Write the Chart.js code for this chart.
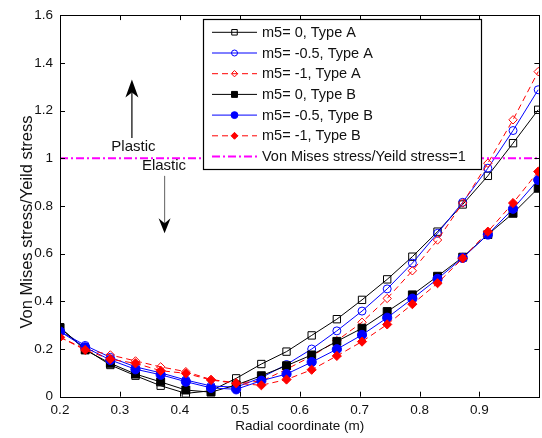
<!DOCTYPE html>
<html>
<head>
<meta charset="utf-8">
<script src="https://cdn.jsdelivr.net/npm/chart.js@4.4.1/dist/chart.umd.min.js"></script>
<style>
  html, body { margin: 0; padding: 0; background: #fff; overflow: hidden; }
  #wrap { position: relative; width: 546px; height: 438px; }
</style>
</head>
<body>
<div id="wrap"><canvas id="myChart"></canvas></div>
<script>
// radial coordinate of the sample points (m)
const radial = [0.2, 0.242, 0.284, 0.326, 0.368, 0.41, 0.452, 0.494, 0.536, 0.578,
                0.62, 0.662, 0.704, 0.746, 0.788, 0.83, 0.872, 0.914, 0.956, 0.998];

// Von Mises stress / yield stress, Type A
const typeA_m0   = [0.29, 0.2, 0.133, 0.088, 0.046, 0.014, 0.025, 0.077, 0.137, 0.189,
                    0.257, 0.325, 0.406, 0.492, 0.587, 0.692, 0.806, 0.926, 1.063, 1.203];
const typeA_m05  = [0.275, 0.215, 0.165, 0.125, 0.1, 0.07, 0.045, 0.04, 0.08, 0.135,
                    0.2, 0.276, 0.359, 0.452, 0.56, 0.685, 0.815, 0.958, 1.116, 1.287];
const typeA_m1   = [0.25, 0.2, 0.175, 0.15, 0.125, 0.105, 0.072, 0.058, 0.065, 0.115,
                    0.17, 0.235, 0.312, 0.412, 0.528, 0.657, 0.812, 0.979, 1.161, 1.363];
// Type B
const typeB_m0   = [0.29, 0.196, 0.14, 0.095, 0.062, 0.028, 0.019, 0.049, 0.088, 0.13,
                    0.175, 0.232, 0.287, 0.357, 0.427, 0.505, 0.585, 0.68, 0.769, 0.874];
const typeB_m05  = [0.273, 0.207, 0.154, 0.115, 0.092, 0.063, 0.037, 0.031, 0.067, 0.095,
                    0.145, 0.199, 0.259, 0.331, 0.411, 0.494, 0.582, 0.68, 0.788, 0.909];
const typeB_m1   = [0.249, 0.196, 0.157, 0.14, 0.109, 0.098, 0.07, 0.056, 0.048, 0.072,
                    0.113, 0.171, 0.231, 0.303, 0.388, 0.476, 0.58, 0.692, 0.812, 0.944];

// yield limit line
const limitX = [0.2, 1.0];
const limitY = [1, 1];

const seriesLabels = ['m5= 0, Type A', 'm5= -0.5, Type A', 'm5= -1, Type A',
                      'm5= 0, Type B', 'm5= -0.5, Type B', 'm5= -1, Type B',
                      'Von Mises stress/Yeild stress=1'];

const fontFam = '"Liberation Sans", Arial, sans-serif';

function pts(xs, ys) { return ys.map((v, i) => ({ x: xs[i], y: v })); }

function series(label, ys, color, style, radius, filled, dashed, order) {
  return {
    label: label,
    data: pts(radial, ys),
    borderColor: color,
    borderWidth: 1,
    borderDash: dashed ? [6, 4] : [],
    pointStyle: style,
    pointRadius: radius,
    pointHoverRadius: radius,
    pointBorderColor: color,
    pointBackgroundColor: filled ? color : 'rgba(0,0,0,0)',
    pointBorderWidth: 1,
    order: order,
    fill: false
  };
}

const datasets = [
  series(seriesLabels[0], typeA_m0,  '#000000', 'rect',    5.2, false, false, 7),
  series(seriesLabels[1], typeA_m05, '#0000ff', 'circle',  4.0, false, false, 6),
  series(seriesLabels[2], typeA_m1,  '#ff0000', 'rectRot', 4.2, false, true,  5),
  series(seriesLabels[3], typeB_m0,  '#000000', 'rect',    5.6, true,  false, 4),
  series(seriesLabels[4], typeB_m05, '#0000ff', 'circle',  4.6, true,  false, 3),
  series(seriesLabels[5], typeB_m1,  '#ff0000', 'rectRot', 4.6, true,  true,  2),
  {
    label: seriesLabels[6],
    data: pts(limitX, limitY),
    borderColor: '#ff00ff',
    borderWidth: 2,
    borderDash: [8, 3, 2, 3],
    pointRadius: 0,
    pointStyle: false,
    order: 1,
    fill: false
  }
];

// small marker drawer used by the legend
function marker(ctx, style, x, y, r, stroke, fill) {
  ctx.beginPath();
  if (style === 'rect') {
    const s = r * Math.SQRT1_2;
    ctx.rect(x - s, y - s, 2 * s, 2 * s);
  } else if (style === 'circle') {
    ctx.arc(x, y, r, 0, Math.PI * 2);
  } else if (style === 'rectRot') {
    ctx.moveTo(x, y - r); ctx.lineTo(x + r, y); ctx.lineTo(x, y + r); ctx.lineTo(x - r, y);
    ctx.closePath();
  }
  ctx.fillStyle = fill; ctx.fill();
  ctx.setLineDash([]);
  ctx.strokeStyle = stroke; ctx.lineWidth = 1; ctx.stroke();
}

function arrow(ctx, x, yBase, yTip, shaft, headLen, half) {
  const dir = yTip < yBase ? -1 : 1;
  ctx.setLineDash([]);
  ctx.strokeStyle = shaft; ctx.lineWidth = 1.2;
  ctx.beginPath(); ctx.moveTo(x, yBase); ctx.lineTo(x, yTip - dir * (headLen - 5)); ctx.stroke();
  ctx.fillStyle = '#000';
  ctx.beginPath();
  ctx.moveTo(x, yTip);
  ctx.lineTo(x + half, yTip - dir * headLen);
  ctx.lineTo(x, yTip - dir * (headLen - 5));
  ctx.lineTo(x - half, yTip - dir * headLen);
  ctx.closePath(); ctx.fill();
}

const decorPlugin = {
  id: 'decor',
  afterDraw(chart) {
    const { ctx, chartArea: a, scales: { x, y } } = chart;
    ctx.save();

    // axes box with inward ticks
    ctx.setLineDash([]);
    ctx.strokeStyle = '#000'; ctx.lineWidth = 1;
    ctx.strokeRect(Math.round(a.left) + 0.5, Math.round(a.top) + 0.5,
                   Math.round(a.right - a.left), Math.round(a.bottom - a.top));
    ctx.beginPath();
    x.ticks.forEach(t => {
      const px = Math.round(x.getPixelForValue(t.value)) + 0.5;
      ctx.moveTo(px, a.bottom); ctx.lineTo(px, a.bottom - 5);
      ctx.moveTo(px, a.top); ctx.lineTo(px, a.top + 5);
    });
    y.ticks.forEach(t => {
      const py = Math.round(y.getPixelForValue(t.value)) + 0.5;
      ctx.moveTo(a.left, py); ctx.lineTo(a.left + 5, py);
      ctx.moveTo(a.right, py); ctx.lineTo(a.right - 5, py);
    });
    ctx.stroke();

    // y axis title
    ctx.save();
    ctx.translate(27, 222);
    ctx.rotate(-Math.PI / 2);
    ctx.fillStyle = '#111';
    ctx.font = '16.5px ' + fontFam;
    ctx.textAlign = 'center'; ctx.textBaseline = 'middle';
    ctx.fillText('Von Mises stress/Yeild stress', 0, 0);
    ctx.restore();

    // plastic / elastic annotation
    const upX = x.getPixelForValue(0.32);
    arrow(ctx, upX, y.getPixelForValue(1.085), y.getPixelForValue(1.33), '#000', 18, 6.5);
    const dnX = x.getPixelForValue(0.3745);
    arrow(ctx, dnX, y.getPixelForValue(0.926), y.getPixelForValue(0.685), '#777', 15, 6);
    ctx.fillStyle = '#111';
    ctx.font = '15px ' + fontFam;
    ctx.textAlign = 'center'; ctx.textBaseline = 'middle';
    ctx.fillText('Plastic', x.getPixelForValue(0.3225), y.getPixelForValue(1.049));
    ctx.fillText('Elastic', x.getPixelForValue(0.3735), y.getPixelForValue(0.969));

    // legend box
    const bx = 203, by = 19, bw = 278, bh = 150;
    ctx.fillStyle = '#fff';
    ctx.fillRect(bx, by, bw, bh);
    ctx.strokeStyle = '#000'; ctx.lineWidth = 1.2;
    ctx.strokeRect(bx + 0.5, by + 0.5, bw, bh);
    ctx.font = '14.5px ' + fontFam;
    ctx.textAlign = 'left'; ctx.textBaseline = 'middle';
    chart.data.datasets.forEach((ds, i) => {
      const ry = 32.3 + i * 20.7;
      ctx.strokeStyle = ds.borderColor;
      ctx.lineWidth = ds.borderWidth;
      ctx.setLineDash(ds.borderDash || []);
      ctx.beginPath(); ctx.moveTo(212, ry); ctx.lineTo(257, ry); ctx.stroke();
      if (ds.pointStyle) {
        marker(ctx, ds.pointStyle, 234.5, ry, ds.pointRadius * 0.75,
               ds.pointBorderColor, ds.pointBackgroundColor);
      }
      ctx.fillStyle = '#111';
      ctx.fillText(ds.label, 262, ry + 0.5);
    });

    ctx.restore();
  }
};

const ctx = document.getElementById('myChart').getContext('2d');
const myChart = new Chart(ctx, {
  type: 'line',
  data: { datasets: datasets },
  options: {
    responsive: true,
    maintainAspectRatio: false,
    devicePixelRatio: 1,
    animation: false,
    layout: { padding: { top: 15, right: 3.6, left: 0, bottom: 0 } },
    plugins: { legend: { display: false }, tooltip: { enabled: false } },
    scales: {
      x: {
        type: 'linear',
        min: 0.2,
        max: 1.0,
        grid: { display: false, drawTicks: false },
        border: { display: false },
        ticks: {
          stepSize: 0.1,
          padding: 5,
          color: '#111',
          font: { family: fontFam, size: 13.5 },
          maxRotation: 0,
          callback: v => String(Math.round(v * 10) / 10)
        },
        afterBuildTicks: s => { s.ticks = s.ticks.filter(t => t.value < 0.95); },
        afterFit: s => { s.height = 41.3; },
        title: {
          display: true,
          text: 'Radial coordinate (m)',
          color: '#111',
          font: { family: fontFam, size: 13.5 },
          padding: { top: 0, bottom: 4 }
        }
      },
      y: {
        min: 0,
        max: 1.6,
        grid: { display: false, drawTicks: false },
        border: { display: false },
        ticks: {
          stepSize: 0.2,
          padding: 7,
          color: '#111',
          font: { family: fontFam, size: 13.5 },
          callback: v => String(Math.round(v * 10) / 10)
        },
        afterFit: s => { s.width = 60; }
      }
    }
  },
  plugins: [decorPlugin]
});
</script>
</body>
</html>
